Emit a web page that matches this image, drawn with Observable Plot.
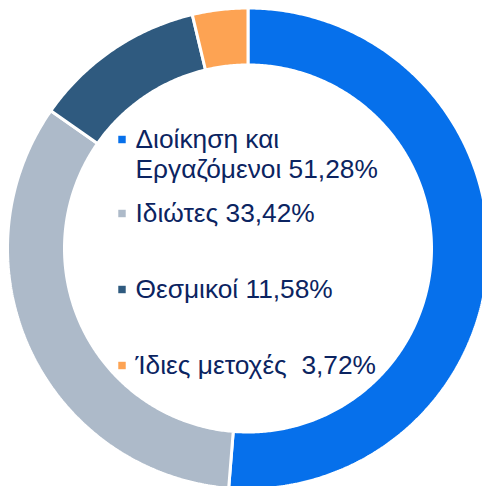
<!DOCTYPE html>
<html>
<head>
<meta charset="utf-8">
<script src="https://cdn.jsdelivr.net/npm/d3@7"></script>
<script src="https://cdn.jsdelivr.net/npm/@observablehq/plot@0.6"></script>
<style>
  html, body { margin: 0; padding: 0; background: #ffffff; }
  #chart { width: 482px; height: 486px; overflow: hidden; }
</style>
</head>
<body>
<div id="chart"></div>
<script>
// ---- Data ----
const names = ["Διοίκηση και\nΕργαζόμενοι", "Ιδιώτες", "Θεσμικοί", "Ίδιες μετοχές\u00a0"];
const shares = [51.28, 33.42, 11.58, 3.72];
const colors = ["#0670eb", "#adbac9", "#2f5a7f", "#fda353"];

// ---- Layout (pixels relative to the ring centre) ----
const W = 482, H = 486;
const cx = 247.5, cy = 248;
const rOuter = 240.5, rInner = 183.5;
const labelBaselines = [177, 221, 297, 373]; // baseline of each label's last line (px from top)
const textX = 135, markerX = 121.5;
const fontSize = 26.3, linePx = 30;

// ring slices from the shares (clockwise from 12 o'clock)
const total = d3.sum(shares);
let acc = 0;
const ringPts = [];
shares.forEach((v, i) => {
  const a0 = acc / total * 2 * Math.PI;
  acc += v;
  const a1 = acc / total * 2 * Math.PI;
  const n = Math.max(2, Math.ceil((a1 - a0) / (Math.PI / 360)));
  const pts = [];
  for (let k = 0; k <= n; k++) {
    const a = a0 + (a1 - a0) * k / n;
    pts.push([rOuter * Math.sin(a), rOuter * Math.cos(a)]);
  }
  for (let k = n; k >= 0; k--) {
    const a = a0 + (a1 - a0) * k / n;
    pts.push([rInner * Math.sin(a), rInner * Math.cos(a)]);
  }
  pts.push(pts[0]);
  pts.forEach(([x, y]) => ringPts.push({name: names[i], x, y}));
});

const fmt = v => v.toFixed(2).replace(".", ",") + "%";
const labels = names.map((n, i) => ({
  name: n,
  text: n + " " + fmt(shares[i]),
  x: textX - cx,
  y: cy - labelBaselines[i],
  mx: markerX - cx,
  my: cy - (labelBaselines[i] - (n.includes("\n") ? linePx : 0)) + 8
}));

const chart = Plot.plot({
  width: W,
  height: H,
  margin: 0,
  style: {background: "#ffffff"},
  x: {domain: [-cx, W - cx], axis: null},
  y: {domain: [cy - H, cy], axis: null},
  color: {domain: names, range: colors},
  marks: [
    Plot.line(ringPts, {x: "x", y: "y", z: "name", fill: "name", stroke: "#ffffff", strokeWidth: 3, strokeLinejoin: "miter"}),
    Plot.dot(labels, {x: "mx", y: "my", fill: "name", symbol: "square", r: 4.2, stroke: "none"}),
    Plot.text(labels, {
      x: "x", y: "y", text: "text",
      textAnchor: "start", lineAnchor: "bottom", lineHeight: linePx / fontSize,
      fontSize: fontSize, fill: "#0b2461",
      fontFamily: "'Liberation Sans', Arial, sans-serif"
    })
  ]
});
document.getElementById("chart").appendChild(chart);
</script>
</body>
</html>
